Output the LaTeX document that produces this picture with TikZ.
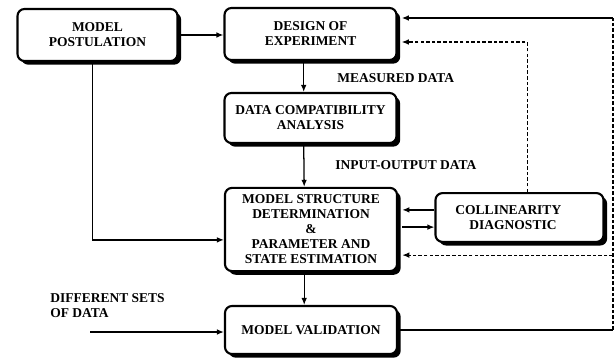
\documentclass[tikz,border=0pt]{standalone}
\usepackage{fontspec}
\setmainfont{Liberation Serif}
\usepackage{tikz}
\usetikzlibrary{arrows.meta, positioning, calc, shadows}

\begin{document}
\begin{tikzpicture}[
  x=0.025cm, y=-0.025cm,
  stagebox/.style={rectangle, rounded corners=5pt, draw=black, line width=1.5pt,
    fill=white, align=center, inner sep=2pt,
    font=\fontsize{9.6}{10.7}\selectfont\bfseries,
    drop shadow={shadow xshift=2.6pt, shadow yshift=-2.6pt, fill=black, opacity=1}},
  flowlabel/.style={font=\fontsize{9.6}{10.7}\selectfont\bfseries, align=left, anchor=west, inner sep=0pt},
  arr/.style={-{Latex[length=5pt, width=4pt]}, line width=0.9pt},
  fbline/.style={line width=0.9pt},
  fbdash/.style={line width=0.8pt, dash pattern=on 2.5pt off 1.5pt}
]
  \useasboundingbox (0,0) rectangle (615,360);

  \node[stagebox, minimum width=4.0cm, minimum height=1.3cm] (post)   at (97.5, 35)  {MODEL\\POSTULATION};
  \node[stagebox, minimum width=4.3cm, minimum height=1.3cm] (design) at (310.5, 34) {DESIGN OF\\EXPERIMENT};
  \node[stagebox, minimum width=4.3cm, minimum height=1.25cm] (compat) at (310.5, 118) {DATA COMPATIBILITY\\ANALYSIS};
  \node[stagebox, minimum width=4.3cm, minimum height=2.08cm] (msd)    at (311, 229.5) {MODEL STRUCTURE\\DETERMINATION\\\&\\PARAMETER AND\\STATE ESTIMATION};
  \node[stagebox, minimum width=4.3cm, minimum height=1.2cm] (valid)  at (311, 330)  {MODEL VALIDATION};
  \node[stagebox, minimum width=4.2cm, minimum height=1.22cm, text width=3.6cm, align=left] (coll) at (519.5, 217.5) {\hspace*{0.2cm}COLLINEARITY\\\hspace*{0.55cm}DIAGNOSTIC};

  \node[flowlabel] (meas) at (337, 78)  {MEASURED DATA};
  \node[flowlabel] (iod)  at (335, 165) {INPUT-OUTPUT DATA};
  \node[flowlabel] (dsets) at (50, 306) {DIFFERENT SETS\\OF DATA};

  \coordinate (dsrc) at (90, 332);
  \coordinate (fbx)  at (613, 18);

  % main chain
  \draw[arr] (post.east) -- (post.east -| design.west);
  \draw[arr] ([xshift=-0.17cm]design.south) -- ([xshift=-0.17cm]compat.north);
  \draw[arr] ([xshift=-0.17cm]compat.south) -- ([xshift=-0.17cm]msd.north);
  \draw[arr] ([xshift=-0.17cm]msd.south) -- ([xshift=-0.17cm]valid.north);
  \draw[arr] ([xshift=-0.13cm]post.south) |- ([yshift=-0.26cm]msd.west);
  \draw[arr] (dsrc) -- (dsrc -| valid.west);

  % collinearity loop
  \draw[arr] ([yshift=0.19cm]coll.west) -- ([yshift=0.19cm, xshift=3pt]coll.west -| msd.east);
  \draw[arr] ([yshift=-0.24cm, xshift=3pt]coll.west -| msd.east) -- ([yshift=-0.24cm]coll.west);
  \draw[arr, fbdash] ([xshift=0.19cm]coll.north) |- ([yshift=-0.2cm, xshift=3pt]design.east);

  % validation feedback
  \draw[fbline] (valid.east) -- (valid.east -| fbx);
  \draw[fbdash] (valid.east -| fbx) -- (fbx);
  \draw[arr] (fbx) -- ([xshift=3pt]fbx -| design.east);
  \draw[arr, fbdash] ([yshift=-0.64cm]msd.east -| fbx) -- ([yshift=-0.64cm, xshift=3pt]msd.east);
\end{tikzpicture}
\end{document}
